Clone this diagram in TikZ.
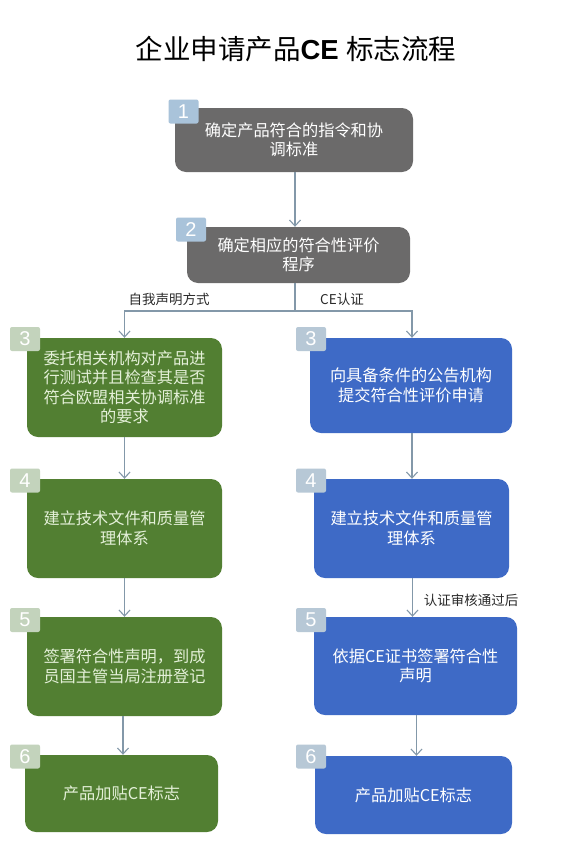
\documentclass[tikz,border=0pt]{standalone}
\usepackage{fontspec}
\setmainfont{Liberation Sans}
\newfontfamily\cjk{Noto Sans CJK SC}
\usetikzlibrary{arrows.meta}
\definecolor{grayB}{HTML}{6B6A6A}
\definecolor{greenB}{HTML}{527F32}
\definecolor{blueB}{HTML}{3E6AC6}
\definecolor{badgeBlue}{HTML}{A9C3DA}
\definecolor{badgeGreen}{HTML}{C3D3BC}
\definecolor{badgeGB}{HTML}{B7C8D6}
\definecolor{arrowC}{HTML}{8398A9}
\definecolor{greenText}{HTML}{E4F0D8}
\definecolor{labelC}{HTML}{2A2A2A}
\tikzset{
  box/.style={rounded corners=11pt, inner sep=0pt, align=center, font=\cjk\fontsize{16.2}{19.5}\selectfont, text=white},
  graybox/.style={box, fill=grayB},
  greenbox/.style={box, fill=greenB, text=greenText},
  bluebox/.style={box, fill=blueB},
  badge/.style={rounded corners=2pt, minimum width=30pt, minimum height=24pt, inner sep=0pt, text=white, font=\fontsize{20}{20}\selectfont},
  arr/.style={draw=arrowC, line width=1.1pt, -{Straight Barb[length=6pt,width=11pt,line width=1.1pt]}},
  conn/.style={draw=arrowC, line width=1.1pt},
  lbl/.style={font=\cjk\fontsize{13.5}{15}\selectfont, text=labelC, inner sep=0pt}
}
\begin{document}
\begin{tikzpicture}[x=1pt,y=-1pt]
\fill[white] (0,0) rectangle (561,854);
\useasboundingbox (0,0) rectangle (561,854);

\node[inner sep=0pt, font=\fontsize{27.5}{29}\selectfont, text=black] (title) at (296,49) {{\cjk 企业申请产品}\textbf{CE} {\cjk 标志流程}};

\node[graybox, minimum width=238pt, minimum height=64pt, text width=225pt] (b1) at (294,140) {确定产品符合的指令和协\\调标准};
\node[graybox, minimum width=223pt, minimum height=56pt, text width=212pt] (b2) at (298.5,255) {确定相应的符合性评价\\程序};

\node[greenbox, minimum width=195pt, minimum height=99pt, text width=185pt] (L3) at (124.5,387.5) {委托相关机构对产品进\\行测试并且检查其是否\\符合欧盟相关协调标准\\的要求};
\node[bluebox, minimum width=202pt, minimum height=95pt, text width=190pt] (R3) at (411,385.5) {向具备条件的公告机构\\提交符合性评价申请};

\node[greenbox, minimum width=195pt, minimum height=99pt, text width=185pt] (L4) at (124.5,528.5) {建立技术文件和质量管\\理体系};
\node[bluebox, minimum width=195pt, minimum height=99pt, text width=185pt] (R4) at (411.5,528.5) {建立技术文件和质量管\\理体系};

\node[greenbox, minimum width=195pt, minimum height=99pt, text width=185pt] (L5) at (124.5,666.5) {签署符合性声明，到成\\员国主管当局注册登记};
\node[bluebox, minimum width=203pt, minimum height=98pt, text width=190pt] (R5) at (415.5,666) {依据CE证书签署符合性\\声明};

\node[greenbox, minimum width=193pt, minimum height=77pt, text width=180pt] (L6) at (121.5,793.5) {产品加贴CE标志};
\node[bluebox, minimum width=197pt, minimum height=78pt, text width=185pt] (R6) at (413.5,795) {产品加贴CE标志};

% badges
\node[badge, fill=badgeBlue] (n1) at (183.5,111.5) {1};
\node[badge, fill=badgeBlue] (n2) at (191,229.5) {2};
\node[badge, fill=badgeGreen] (nL3) at (25,339) {3};
\node[badge, fill=badgeGB] (nR3) at (311,339) {3};
\node[badge, fill=badgeGreen] (nL4) at (25,480.5) {4};
\node[badge, fill=badgeGB] (nR4) at (311,480.5) {4};
\node[badge, fill=badgeGreen] (nL5) at (25,620) {5};
\node[badge, fill=badgeGB] (nR5) at (311,620) {5};
\node[badge, fill=badgeGreen] (nL6) at (25,756.5) {6};
\node[badge, fill=badgeGB] (nR6) at (311,756.5) {6};

% connectors
\draw[arr] (b1.south -| 295,0) -- (b2.north -| 295,0);
\coordinate (split) at (295,311);
\draw[conn] (b2.south -| 295,0) -- (split);
\draw[arr] (split) -| (L3.north);
\draw[arr] (split) -| ([xshift=1pt]R3.north);
\draw[arr] (L3.south) -- (L4.north);
\draw[arr] ([xshift=1pt]R3.south) -- ([xshift=1pt]R3.south |- R4.north);
\draw[arr] (L4.south) -- (L5.north);
\draw[arr] ([xshift=1pt]R4.south) -- ([xshift=1pt]R4.south |- R5.north);
\draw[arr] ([xshift=-1.5pt]L5.south) -- ([xshift=-1.5pt]L5.south |- L6.north);
\draw[arr] ([xshift=1pt]R5.south) -- ([xshift=1pt]R5.south |- R6.north);

\node[lbl] (la) at (169,299) {自我声明方式};
\node[lbl] (lb) at (342,299) {CE认证};
\node[lbl] (lc) at (471,600) {认证审核通过后};
\end{tikzpicture}
\end{document}
